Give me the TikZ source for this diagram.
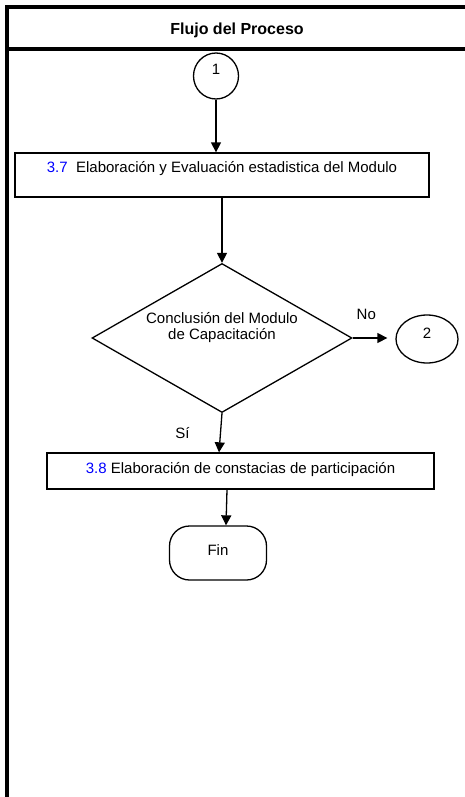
\documentclass[tikz,border=0pt]{standalone}
\usepackage{fontspec}
\setmainfont{Liberation Sans}
\usepackage{tikz}
\usetikzlibrary{arrows,arrows.meta,shapes.geometric,positioning}

\begin{document}
\begin{tikzpicture}[x=1pt,y=-1pt,>={Triangle[length=10pt,width=10pt]},line width=1.3pt]
  \tikzstyle{every node}=[font=\fontsize{15}{18}\selectfont]
  \tikzstyle{conector}=[draw,ellipse,inner sep=0pt,text height=10pt,text depth=12pt]
  \tikzstyle{actividad}=[draw,rectangle,inner xsep=0pt,inner ysep=4pt]
  \tikzstyle{decision}=[draw,diamond,inner sep=0pt,minimum width=260pt,minimum height=149pt]
  \tikzstyle{terminal}=[draw,rectangle,rounded corners=20pt,minimum width=97pt,minimum height=54pt,text depth=5pt]
  \tikzstyle{marco}=[line width=4pt]

  \useasboundingbox (0,0) rectangle (465,797);

  % encabezado
  \draw[marco] (7,797) -- (7,7) -- (465,7);
  \draw[marco] (7,49) -- (465,49);
  \node[font=\bfseries\fontsize{16}{19}\selectfont] (titulo) at (237,30) {Flujo del Proceso};

  \node[conector,minimum width=45pt,minimum height=46pt] (uno) at (216,76) {1};
  \node[actividad,minimum width=414pt,text height=15pt,text depth=21pt] (act37) at (222,175)
    {{\color{blue}3.7}\ \ Elaboración y Evaluación estadistica del Modulo};
  \node[decision,label={[align=center,yshift=10pt,font=\fontsize{15}{16}\selectfont]center:{Conclusión del Modulo\\de Capacitación}}] (dec) at (222,338) {};
  \node[conector,minimum width=62pt,minimum height=48pt] (dos) at (427,339) {2};
  \node[actividad,minimum width=387pt,text height=16pt,text depth=12pt] (act38) at (240.5,471)
    {{\color{blue}3.8} Elaboración de constacias de participación};
  \node[terminal] (fin) at (218,553) {Fin};

  \path[->]
  (uno.south) edge (uno.south |- act37.north)
  (act37.south) edge (dec.north)
  (dec.east) edge [shorten >=8pt] node [above=14pt,pos=0.32] {No} (dec.east -| dos.west)
  (dec.south) edge node [left=27pt] {Sí} ([xshift=-21.5pt]act38.north)
  ([xshift=-13.5pt]act38.south) edge ([xshift=8pt]fin.north);
\end{tikzpicture}
\end{document}
